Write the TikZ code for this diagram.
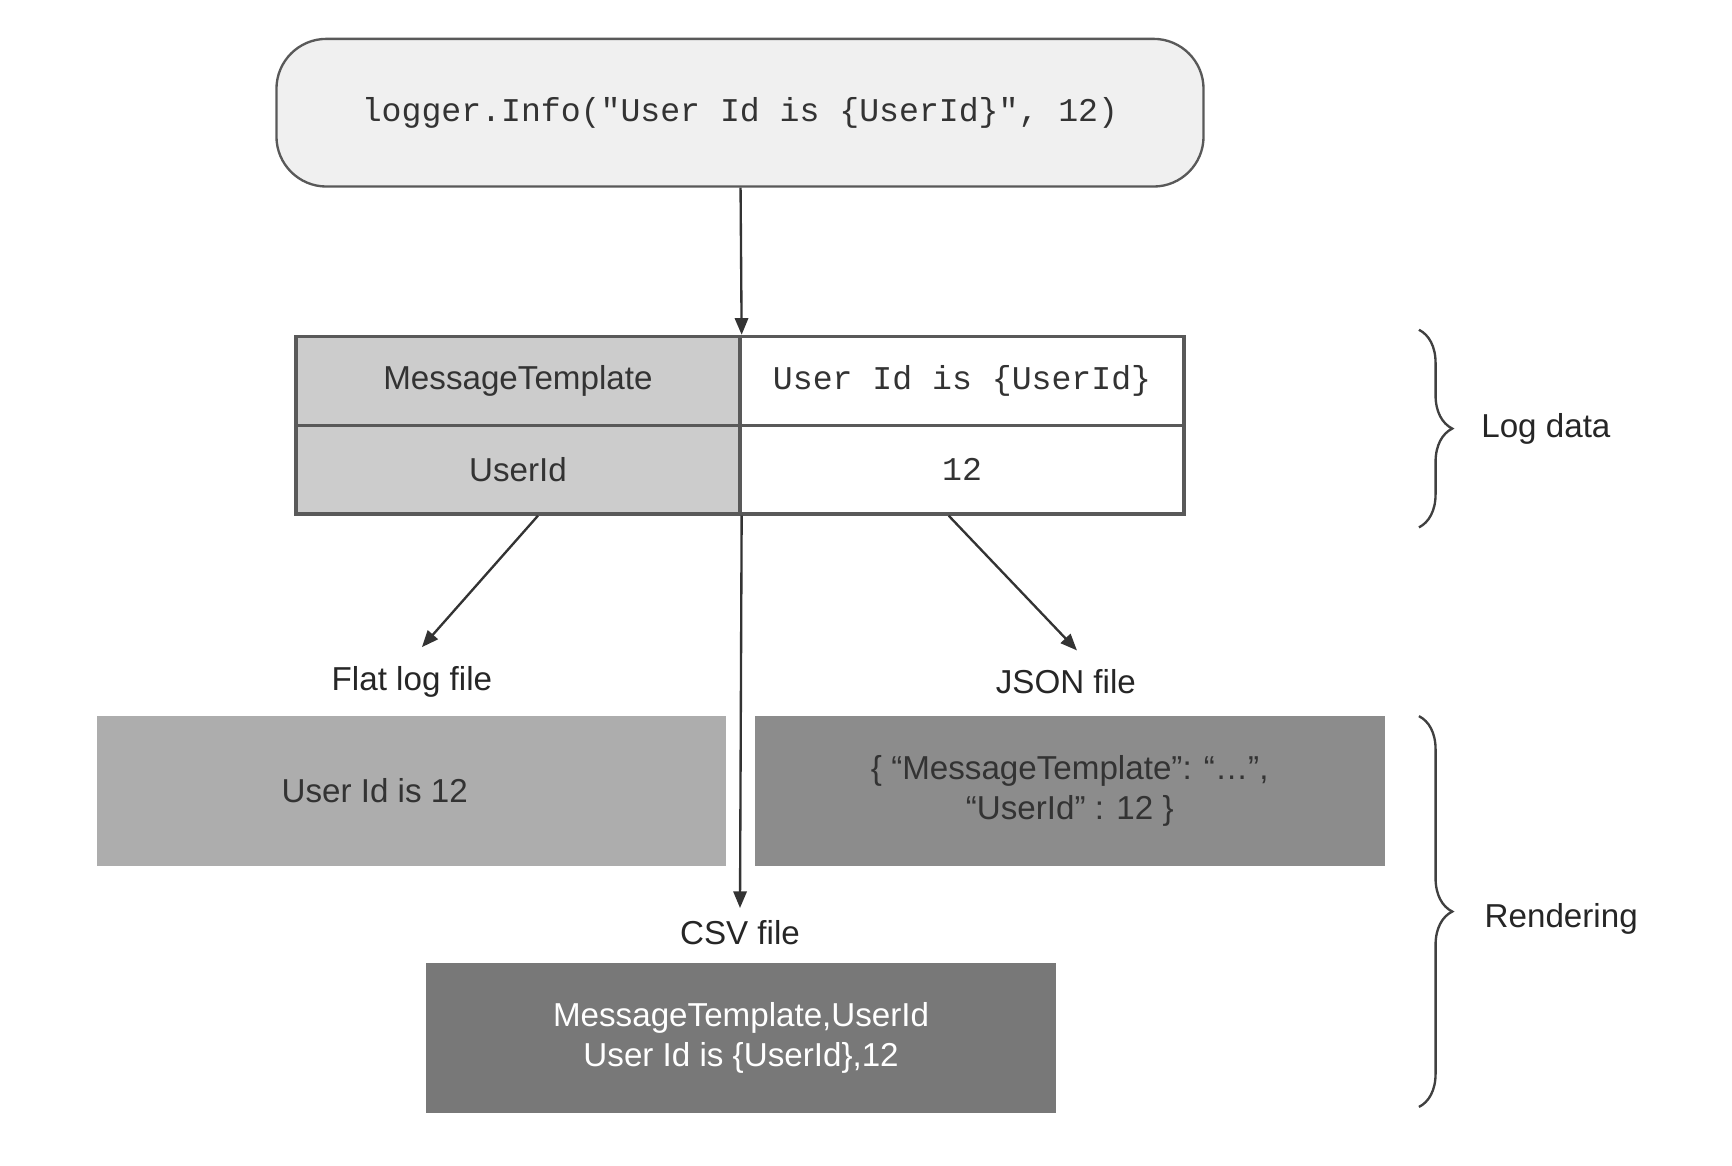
\documentclass[tikz,border=0pt]{standalone}
\usepackage{fontspec}
\setmainfont{Liberation Sans}
\setmonofont{Liberation Mono}
\usetikzlibrary{arrows.meta,positioning,decorations.pathreplacing}

\begin{document}
\begin{tikzpicture}[
  call/.style={rectangle, draw=black!65, fill=black!6, rounded corners=0.45cm, line width=0.6pt, minimum width=8.35cm, minimum height=1.33cm, text centered, font=\ttfamily\fontsize{8.5}{10.2}\selectfont, text=black!80},
  keycell/.style={rectangle, draw=black!65, fill=black!20, line width=0.85pt, minimum width=4cm, minimum height=0.8cm, text centered, font=\fontsize{8.5}{10.2}\selectfont, text=black!80},
  valcell/.style={keycell, fill=white, font=\ttfamily\fontsize{8.5}{10.2}\selectfont, text=black!80},
  outbox/.style={rectangle, minimum width=5.67cm, minimum height=1.35cm, text centered, align=center, font=\fontsize{8.5}{10.2}\selectfont, text=black!80},
  lbl/.style={font=\fontsize{8.5}{10.2}\selectfont, text=black!85, inner sep=1pt},
  arrow/.style={-{Triangle[length=0.15cm,width=0.12cm]}, line width=0.6pt, draw=black!80},
  brace/.style={decorate, decoration={brace, amplitude=0.3cm}, line width=0.6pt, draw=black!75}
]
  \useasboundingbox (0,0) rectangle (15.6,-10.5);

  \node[call] (call) at (6.665,-1.015) {logger.Info("User Id is \{UserId\}", 12)};

  % log data table
  \node[keycell] (keyMT) at (4.665,-3.43) {MessageTemplate};
  \node[keycell] (keyUid) at (4.665,-4.23) {UserId};
  \node[valcell] (valMT) at (8.665,-3.43) {User Id is \{UserId\}};
  \node[valcell] (valUid) at (8.665,-4.23) {12};

  % renderings
  \node[lbl] (flatlbl) at (3.71,-6.14) {Flat log file};
  \node[lbl] (jsonlbl) at (9.60,-6.14) {JSON file};
  \node[lbl] (csvlbl) at (6.665,-8.40) {CSV file};
  \node[outbox, fill=black!32] (flat) at (3.705,-7.125) {User Id is 12\hspace*{0.66cm}};
  \node[outbox, fill=black!45] (json) at (9.635,-7.125) {\{ “MessageTemplate”: “…”,\\“UserId” : 12 \}};
  \node[outbox, fill=black!53, text=white] (csv) at (6.675,-9.345) {MessageTemplate,UserId\\User Id is \{UserId\},12};

  \draw[arrow] (call) -- (keyMT.north east);
  \draw[arrow] ([xshift=0.18cm]keyUid.south) -- ([xshift=0.09cm,yshift=0.13cm]flatlbl.north);
  \draw[arrow] ([xshift=-0.12cm]valUid.south) -- ([xshift=0.10cm,yshift=0.13cm]jsonlbl.north);
  \draw[arrow] (keyUid.south east) -- ([yshift=0.07cm]csvlbl.north);

  % braces
  \coordinate (ldTop) at (12.78,-2.97);
  \coordinate (ldBot) at (12.78,-4.75);
  \coordinate (rTop) at (12.78,-6.45);
  \coordinate (rBot) at (12.78,-9.97);
  \draw[brace] (ldTop) -- (ldBot);
  \draw[brace] (rTop) -- (rBot);
  \node[lbl, anchor=west] (logdata) at (13.30,-3.86) {Log data};
  \node[lbl, anchor=west] (rendering) at (13.33,-8.28) {Rendering};
\end{tikzpicture}
\end{document}
